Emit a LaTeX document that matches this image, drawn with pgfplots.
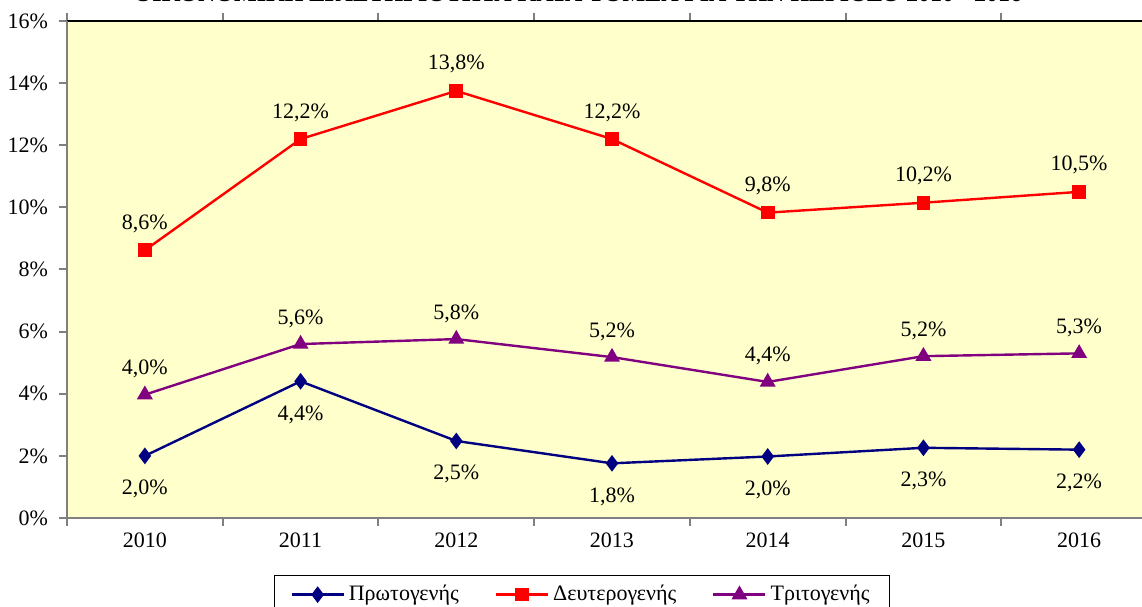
\documentclass[border=0pt]{standalone}
\usepackage{fontspec}
\setmainfont{Liberation Serif}
\usepackage{pgfplots}
\pgfplotsset{compat=1.18}
\usepackage{pgfplotstable}
\definecolor{navyc}{RGB}{0,0,128}
\definecolor{purp}{RGB}{128,0,128}
\definecolor{redc}{RGB}{255,0,0}
\definecolor{bgy}{RGB}{255,255,204}
\pgfplotstableread{
x y lab
0 2.00 {2,0\%}
1 4.40 {4,4\%}
2 2.48 {2,5\%}
3 1.76 {1,8\%}
4 1.98 {2,0\%}
5 2.26 {2,3\%}
6 2.20 {2,2\%}
}\prim
\pgfplotstableread{
x y lab
0 8.62 {8,6\%}
1 12.20 {12,2\%}
2 13.75 {13,8\%}
3 12.20 {12,2\%}
4 9.83 {9,8\%}
5 10.15 {10,2\%}
6 10.50 {10,5\%}
}\sec
\pgfplotstableread{
x y lab
0 3.97 {4,0\%}
1 5.60 {5,6\%}
2 5.76 {5,8\%}
3 5.18 {5,2\%}
4 4.38 {4,4\%}
5 5.21 {5,2\%}
6 5.30 {5,3\%}
}\tri
\begin{document}
\begin{tikzpicture}[x=1pt,y=1pt]
\useasboundingbox (0,0) rectangle (571,303);
\node[font=\bfseries\fontsize{12}{14}\selectfont, anchor=base, inner sep=0pt] at (289,302) {ΟΙΚΟΝΟΜΙΚΗ ΔΡΑΣΤΗΡΙΟΤΗΤΑ ΚΑΤΑ ΤΟΜΕΑ ΓΙΑ ΤΗΝ ΠΕΡΙΟΔΟ 2010 - 2016};
\begin{axis}[
  at={(33.5pt,44pt)}, anchor=south west,
  scale only axis, width=545pt, height=248.5pt,
  xmin=-0.5, xmax=6.5, ymin=0, ymax=16,
  xtick={0,...,6}, xticklabels={2010,2011,2012,2013,2014,2015,2016},
  minor xtick={-0.5,0.5,...,6.5},
  ytick={0,2,...,16},
  /pgf/number format/assume math mode=true,
  yticklabel={\pgfmathprintnumber{\tick}\%},
  tick align=outside,
  major tick length=4pt, minor tick length=4pt,
  every major x tick/.append style={draw=none},
  every minor x tick/.append style={draw=gray, line width=1pt},
  every major y tick/.append style={draw=gray, line width=1pt},
  tick label style={font=\fontsize{11}{13}\selectfont},
  y tick label style={xshift=-2pt},
  axis line style={draw=none},
  axis background/.style={fill=bgy},
  clip=false,
  point meta=explicit symbolic,
  nodes near coords,
  every node near coord/.append style={font=\fontsize{11}{13}\selectfont, text=black, inner sep=0pt, anchor=base},
  legend columns=3,
  legend style={at={(0.4725,-0.1147)}, anchor=north, draw=black, fill=white,
    font=\fontsize{11}{13}\selectfont, inner xsep=8pt, inner ysep=3pt,
    /tikz/every even column/.append style={column sep=16pt}},
  legend image code/.code={\draw[mark repeat=2,mark phase=2] plot coordinates {(0pt,0pt)(13pt,0pt)(26pt,0pt)};},
]
\addplot[navyc, line width=1.2pt, mark=diamond*, mark size=3.2pt, mark options={solid},
  every node near coord/.append style={yshift=-19.5pt}]
  table[x=x,y=y,meta=lab]{\prim};
\addlegendentry{Πρωτογενής}
\addplot[redc, line width=1.2pt, mark=square*, mark size=2.8pt,
  every node near coord/.append style={yshift=10.5pt}]
  table[x=x,y=y,meta=lab]{\sec};
\addlegendentry{Δευτερογενής}
\addplot[purp, line width=1.2pt, mark=triangle*, mark size=3.4pt,
  every node near coord/.append style={yshift=10pt}]
  table[x=x,y=y,meta=lab]{\tri};
\addlegendentry{Τριτογενής}
\draw[black, line width=1.2pt] (rel axis cs:0,1) -- (rel axis cs:1,1) -- (rel axis cs:1,0);
\draw[gray, line width=1.2pt] (rel axis cs:0,1) -- (rel axis cs:0,0) -- (rel axis cs:1,0);
\end{axis}
\end{tikzpicture}
\end{document}
